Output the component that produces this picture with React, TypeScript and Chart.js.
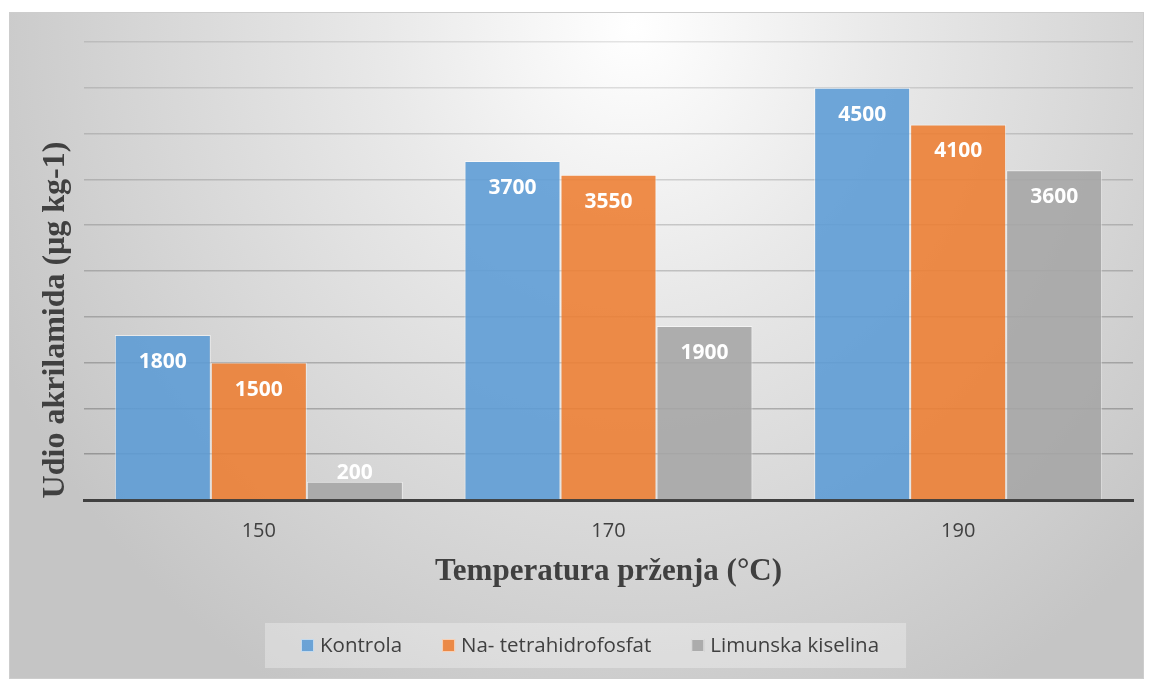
import React, { useEffect, useRef } from "react";
import { Chart, registerables } from "chart.js";

Chart.register(...registerables);

const categories = ["150", "170", "190"];
const kontrola = [1800, 3700, 4500];
const naTetra = [1500, 3550, 4100];
const limunska = [200, 1900, 3600];
const seriesNames = ["Kontrola", "Na- tetrahidrofosfat", "Limunska kiselina"];
const xTitle = "Temperatura prženja (°C)";
const yTitle = "Udio akrilamida (μg kg-1)";

const W = 1133;
const H = 665;

const fillColors = ["rgba(91,155,213,0.88)", "rgba(237,125,49,0.88)", "rgba(165,165,165,0.88)"];

const titlesPlugin = {
  id: "titles",
  afterDraw(chart: any) {
    const { ctx, chartArea } = chart;
    ctx.save();
    ctx.fillStyle = "#404040";
    ctx.textAlign = "center";
    ctx.textBaseline = "middle";
    ctx.font = "bold 31px 'Liberation Serif', serif";
    ctx.fillText(xTitle, (chartArea.left + chartArea.right) / 2, 559);
    ctx.translate(46, 307);
    ctx.rotate(-Math.PI / 2);
    ctx.font = "bold 32px 'Liberation Serif', serif";
    ctx.fillText(yTitle, 0, 0);
    ctx.restore();
  },
};

const labelsPlugin = {
  id: "barLabels",
  afterDatasetsDraw(chart: any) {
    const { ctx } = chart;
    ctx.save();
    ctx.fillStyle = "#ffffff";
    ctx.textAlign = "center";
    ctx.textBaseline = "middle";
    ctx.font = "bold 21px 'Open Sans', sans-serif";
    chart.data.datasets.forEach((ds: any, di: number) => {
      const meta = chart.getDatasetMeta(di);
      meta.data.forEach((bar: any, i: number) => {
        const h = bar.base - bar.y;
        const y = h > 45 ? bar.y + 27 : bar.y - 9;
        ctx.fillText(String(ds.data[i]), bar.x, y);
      });
    });
    ctx.restore();
  },
};

const legendPlugin = {
  id: "customLegend",
  afterDraw(chart: any) {
    const { ctx } = chart;
    ctx.save();
    ctx.font = "20.5px 'Open Sans', sans-serif";
    const box = 13;
    const gapBoxText = 6;
    const gapItems = 40;
    const widths = chart.data.datasets.map((ds: any) => ctx.measureText(ds.label).width);
    const total = widths.reduce((a: number, w: number) => a + box + gapBoxText + w, 0) + gapItems * (widths.length - 1);
    const startX = 291;
    const cy = 632.5;
    let x = startX;
    ctx.fillStyle = "rgba(255,255,255,0.3)";
    ctx.fillRect(x - 36, cy - 22.5, total + 63, 45);
    ctx.textBaseline = "middle";
    ctx.textAlign = "left";
    chart.data.datasets.forEach((ds: any, i: number) => {
      ctx.fillStyle = ds.backgroundColor;
      ctx.fillRect(x, cy - box / 2, box, box);
      ctx.strokeStyle = "rgba(255,255,255,0.6)";
      ctx.lineWidth = 1;
      ctx.strokeRect(x + 0.5, cy - box / 2 + 0.5, box - 1, box - 1);
      ctx.fillStyle = "#404040";
      ctx.fillText(ds.label, x + box + gapBoxText, cy + 1);
      x += box + gapBoxText + widths[i] + gapItems;
    });
    ctx.restore();
  },
};

export default function App() {
  const ref = useRef<HTMLCanvasElement>(null);
  useEffect(() => {
    if (!ref.current) return;
    const data = [kontrola, naTetra, limunska];
    const chart = new Chart(ref.current, {
      type: "bar",
      data: {
        labels: categories,
        datasets: data.map((d, i) => ({
          label: seriesNames[i],
          data: d,
          backgroundColor: fillColors[i],
          borderColor: "rgba(255,255,255,0.55)",
          borderWidth: 1,
          barPercentage: 1,
          categoryPercentage: 0.8237,
        })),
      },
      options: {
        responsive: false,
        animation: false,
        layout: { padding: { top: 29, right: 10, bottom: 0, left: 0 } },
        plugins: {
          legend: { display: false },
          tooltip: { enabled: false },
        },
        scales: {
          x: {
            grid: { display: false, drawTicks: false },
            border: { display: true, color: "#404040", width: 3 },
            ticks: {
              color: "#404040",
              font: { family: "'Open Sans', sans-serif", size: 20 },
              padding: 19,
            },
            afterFit(scale: any) {
              scale.height = 178;
            },
          },
          y: {
            min: 0,
            max: 5000,
            ticks: { display: false, stepSize: 500 },
            border: { display: false },
            grid: {
              drawTicks: false,
              lineWidth: 1.5,
              color: (c: any) => {
                const v = c.tick ? c.tick.value : 0;
                const a = 0.26 - (v / 5000) * 0.16;
                return `rgba(0,0,0,${a.toFixed(3)})`;
              },
            },
            afterFit(scale: any) {
              scale.width = 74;
            },
          },
        },
      },
      plugins: [titlesPlugin, labelsPlugin, legendPlugin],
    });
    return () => chart.destroy();
  }, []);

  return (
    <div
      style={{
        position: "absolute",
        left: 9,
        top: 12,
        width: W + 2,
        height: H + 2,
        boxSizing: "border-box",
        border: "1px solid #cdcdcd",
        background:
          "radial-gradient(ellipse 62% 115% at 55% 2%, #ffffff 0%, #e9e9e9 35%, #d3d3d3 75%, #c5c5c5 100%)",
      }}
    >
      <canvas ref={ref} width={W} height={H} style={{ display: "block" }} />
    </div>
  );
}
